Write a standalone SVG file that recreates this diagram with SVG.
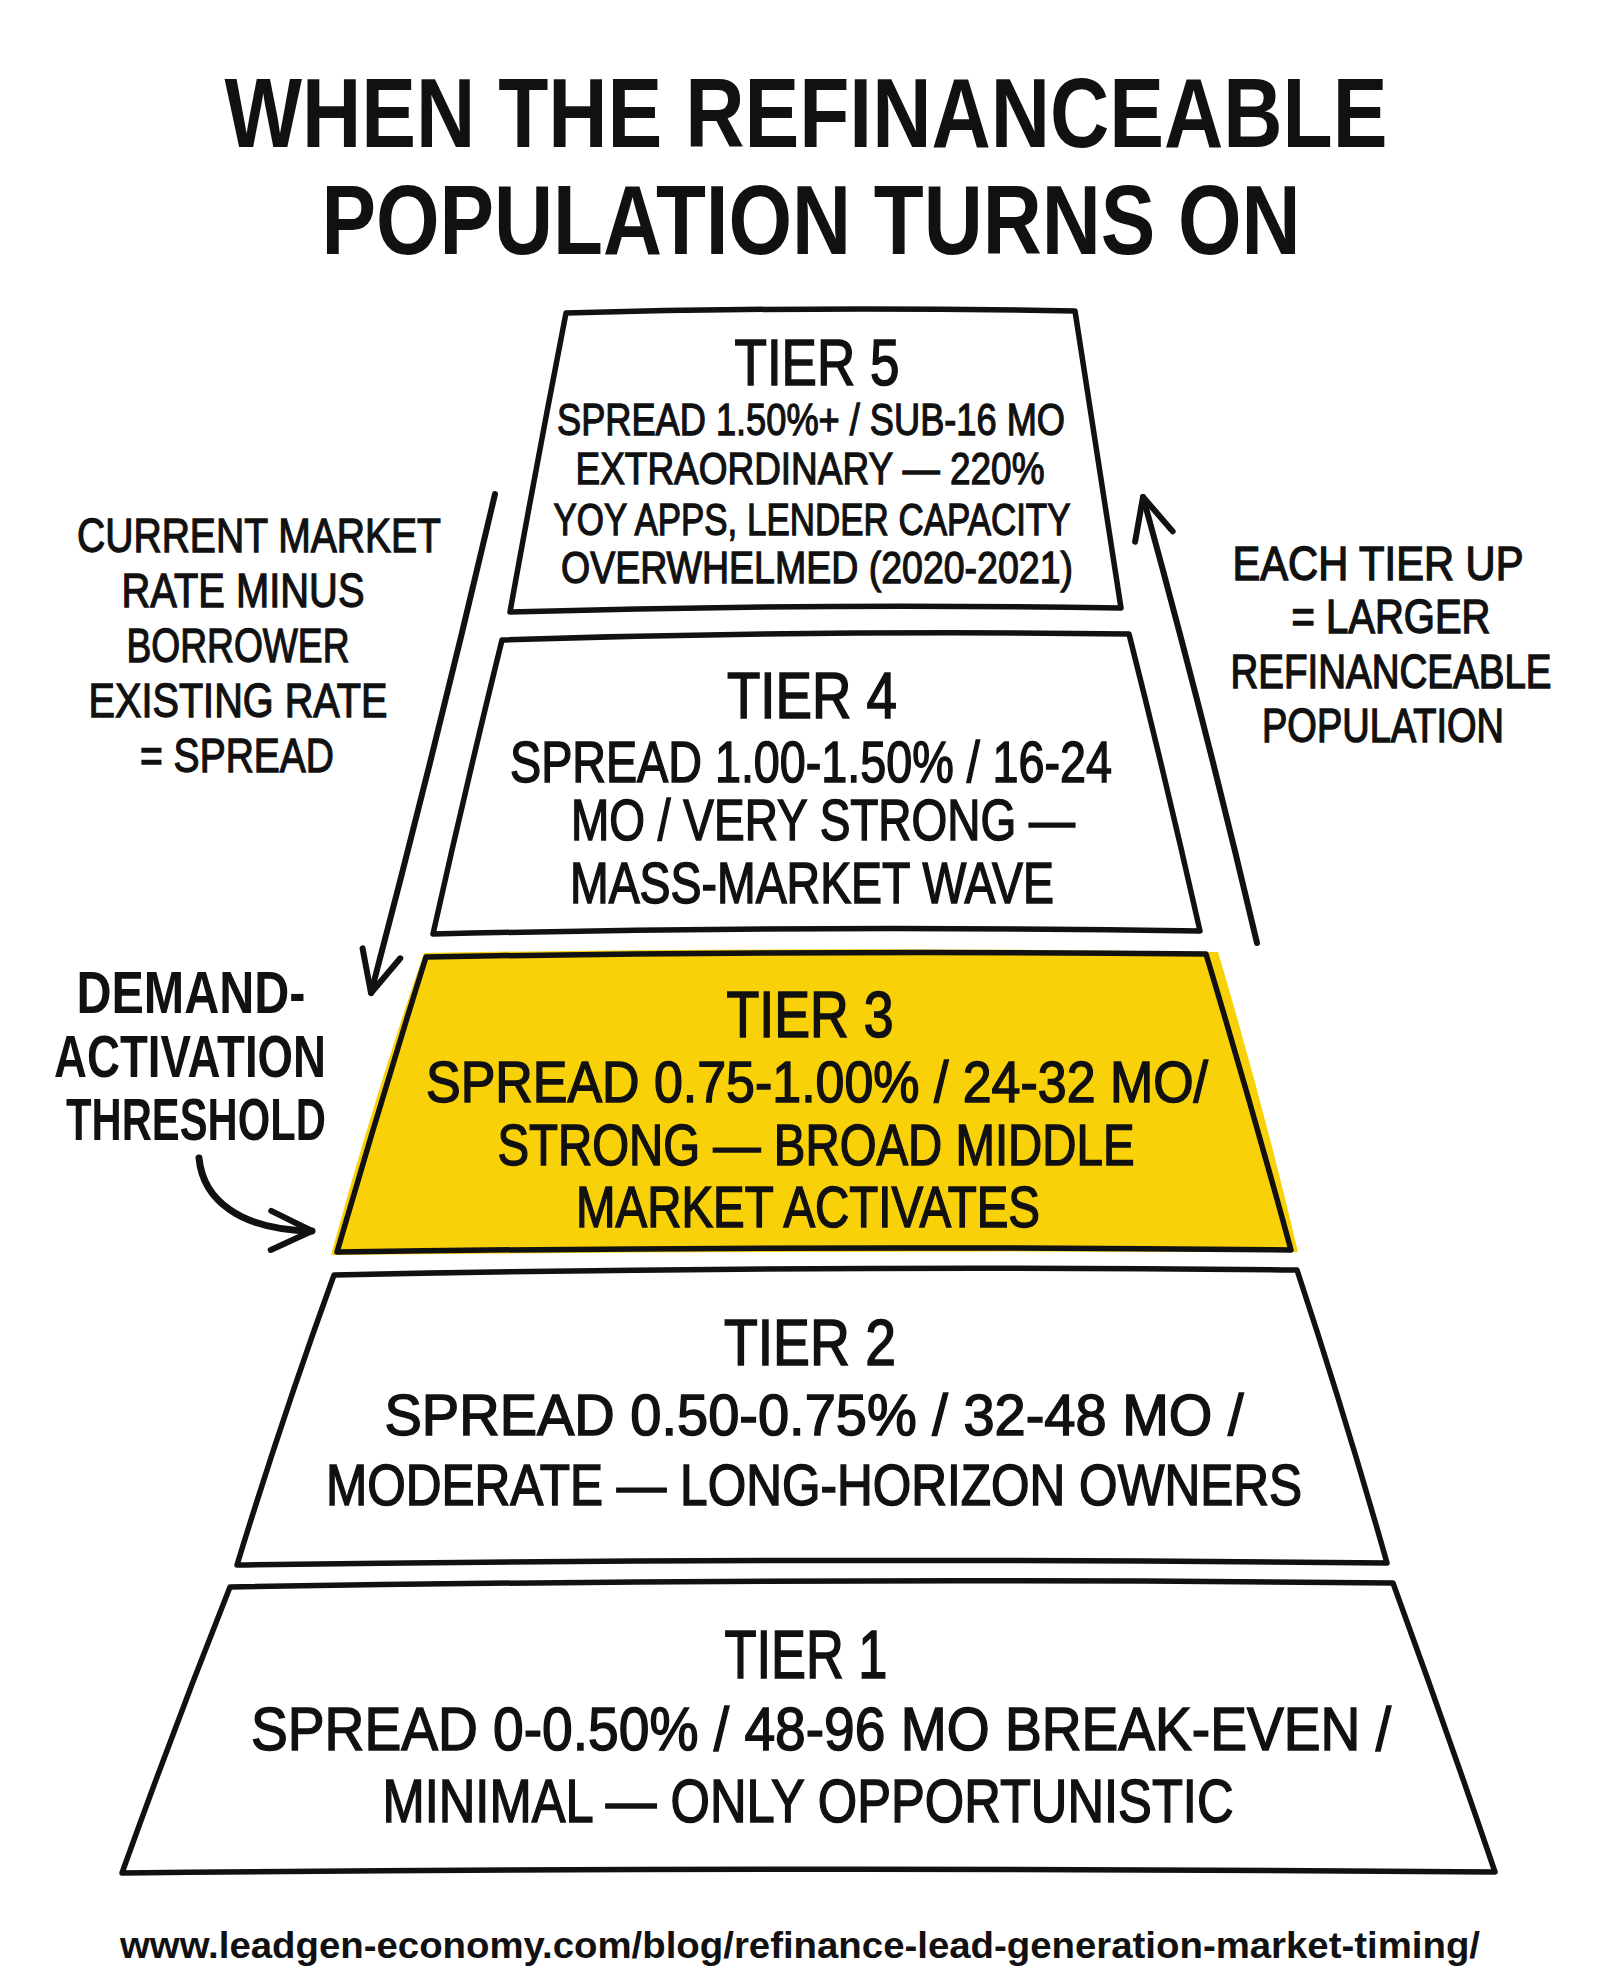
<svg xmlns="http://www.w3.org/2000/svg" width="1600" height="1986" viewBox="0 0 1600 1986">
  <style>
    .bg { fill: #ffffff; }
    .tier { fill: #ffffff; stroke: #111111; stroke-width: 5.5; stroke-linejoin: round; stroke-linecap: round; }
    .tier.hot { fill: none; }
    .hotfill { fill: #F9D109; }
    text { font-family: "Liberation Sans", Arial, Helvetica, sans-serif; fill: #111111; text-anchor: middle; }
    .title { font-size: 80px; font-weight: bold; }
    .tt { font-size: 64px; stroke: #111111; stroke-width: 1.6; }
    .b5 { font-size: 45px; stroke: #111111; stroke-width: 1.3; }
    .b { font-size: 57px; stroke: #111111; stroke-width: 1.5; }
    .note { font-size: 49px; stroke: #111111; stroke-width: 1.3; }
    .note2 { font-size: 40px; stroke: #111111; stroke-width: 1.2; }
    .strong { font-size: 60px; font-weight: bold; }
    .url { font-size: 37px; font-weight: bold; }
    .conn { fill: none; stroke: #111111; stroke-width: 6; stroke-linecap: round; stroke-linejoin: round; }
  </style>
  <defs>
    <marker id="chev" viewBox="0 0 52 52" refX="47" refY="26" markerWidth="52" markerHeight="52" markerUnits="userSpaceOnUse" orient="auto" overflow="visible">
      <path d="M6,6.5 L47,26 L6,45.5" fill="none" stroke="#111111" stroke-width="6" stroke-linecap="round" stroke-linejoin="round"/>
    </marker>
  </defs>

  <rect class="bg" x="0" y="0" width="1600" height="1986"/>

  <g id="title">
    <text class="title" transform="translate(806,147) scale(1,1.225)" x="0" y="0" textLength="1163" lengthAdjust="spacingAndGlyphs">WHEN THE REFINANCEABLE</text>
    <text class="title" transform="translate(811,254) scale(1,1.225)" x="0" y="0" textLength="979" lengthAdjust="spacingAndGlyphs">POPULATION TURNS ON</text>
  </g>

  <g id="tier5">
    <path class="tier" d="M566,313 Q820,306 1075,311 Q1098,460 1121,608 Q815,603 510,612 Q537,462 566,313 Z"/>
    <text class="tt" x="817" y="385" textLength="165" lengthAdjust="spacingAndGlyphs">TIER 5</text>
    <text class="b5" x="811" y="435" textLength="508" lengthAdjust="spacingAndGlyphs">SPREAD 1.50%+ / SUB-16 MO</text>
    <text class="b5" x="810" y="484" textLength="469" lengthAdjust="spacingAndGlyphs">EXTRAORDINARY — 220%</text>
    <text class="b5" x="812" y="535" textLength="517" lengthAdjust="spacingAndGlyphs">YOY APPS, LENDER CAPACITY</text>
    <text class="b5" x="817" y="583" textLength="512" lengthAdjust="spacingAndGlyphs">OVERWHELMED (2020-2021)</text>
  </g>

  <g id="tier4">
    <path class="tier" d="M502,640 Q815,630 1129,634 Q1166,780 1200,931 Q816,925 433,934 Q466,786 502,640 Z"/>
    <text class="tt" x="812" y="718" textLength="170" lengthAdjust="spacingAndGlyphs">TIER 4</text>
    <text class="b" x="811" y="782" textLength="602" lengthAdjust="spacingAndGlyphs">SPREAD 1.00-1.50% / 16-24</text>
    <text class="b" x="823" y="840" textLength="504" lengthAdjust="spacingAndGlyphs">MO / VERY STRONG —</text>
    <text class="b" x="812" y="903" textLength="484" lengthAdjust="spacingAndGlyphs">MASS-MARKET WAVE</text>
  </g>

  <g id="tier3">
    <path class="hotfill" d="M424,953 Q816,946 1218,952 Q1262,1100 1298,1252 Q814,1250 331,1255 Q372,1104 424,953 Z"/>
    <path class="tier hot" d="M426,957 Q816,950 1206,954 Q1250,1100 1291,1250 Q814,1245 337,1252 Q380,1104 426,957 Z"/>
    <text class="tt" x="810" y="1037" textLength="167" lengthAdjust="spacingAndGlyphs">TIER 3</text>
    <text class="b" x="817" y="1102" textLength="782" lengthAdjust="spacingAndGlyphs">SPREAD 0.75-1.00% / 24-32 MO/</text>
    <text class="b" x="816" y="1165" textLength="637" lengthAdjust="spacingAndGlyphs">STRONG — BROAD MIDDLE</text>
    <text class="b" x="808" y="1227" textLength="464" lengthAdjust="spacingAndGlyphs">MARKET ACTIVATES</text>
  </g>

  <g id="tier2">
    <path class="tier" d="M334,1275 Q815,1265 1297,1270 Q1345,1415 1387,1563 Q812,1557 237,1565 Q282,1418 334,1275 Z"/>
    <text class="tt" x="810" y="1365" textLength="172" lengthAdjust="spacingAndGlyphs">TIER 2</text>
    <text class="b" x="814" y="1435" textLength="859" lengthAdjust="spacingAndGlyphs">SPREAD 0.50-0.75% / 32-48 MO /</text>
    <text class="b" x="814" y="1505" textLength="976" lengthAdjust="spacingAndGlyphs">MODERATE — LONG-HORIZON OWNERS</text>
  </g>

  <g id="tier1">
    <path class="tier" d="M230,1587 Q812,1577 1393,1583 Q1446,1728 1495,1872 Q808,1866 122,1873 Q174,1728 230,1587 Z"/>
    <text class="tt" x="806" y="1678" textLength="163" lengthAdjust="spacingAndGlyphs" style="font-size:68px">TIER 1</text>
    <text class="b" x="821" y="1750" textLength="1140" lengthAdjust="spacingAndGlyphs" style="font-size:61px">SPREAD 0-0.50% / 48-96 MO BREAK-EVEN /</text>
    <text class="b" x="808" y="1822" textLength="851" lengthAdjust="spacingAndGlyphs" style="font-size:62px">MINIMAL — ONLY OPPORTUNISTIC</text>
  </g>

  <g id="note-spread">
    <text class="note" x="259" y="552" textLength="364" lengthAdjust="spacingAndGlyphs">CURRENT MARKET</text>
    <text class="note" x="243" y="607" textLength="243" lengthAdjust="spacingAndGlyphs">RATE MINUS</text>
    <text class="note" x="238" y="662" textLength="223" lengthAdjust="spacingAndGlyphs">BORROWER</text>
    <text class="note" x="238" y="717" textLength="299" lengthAdjust="spacingAndGlyphs">EXISTING RATE</text>
    <text class="note" x="237" y="772" textLength="194" lengthAdjust="spacingAndGlyphs">= SPREAD</text>
  </g>

  <g id="note-larger">
    <text class="note2" transform="translate(1378,580) scale(1,1.225)" x="0" y="0" textLength="291" lengthAdjust="spacingAndGlyphs">EACH TIER UP</text>
    <text class="note2" transform="translate(1391,633) scale(1,1.225)" x="0" y="0" textLength="199" lengthAdjust="spacingAndGlyphs">= LARGER</text>
    <text class="note2" transform="translate(1391,688) scale(1,1.225)" x="0" y="0" textLength="321" lengthAdjust="spacingAndGlyphs">REFINANCEABLE</text>
    <text class="note2" transform="translate(1383,742) scale(1,1.225)" x="0" y="0" textLength="242" lengthAdjust="spacingAndGlyphs">POPULATION</text>
  </g>

  <g id="note-threshold">
    <text class="strong" x="191" y="1013" textLength="229" lengthAdjust="spacingAndGlyphs">DEMAND-</text>
    <text class="strong" x="190" y="1077" textLength="272" lengthAdjust="spacingAndGlyphs">ACTIVATION</text>
    <text class="strong" x="196" y="1140" textLength="260" lengthAdjust="spacingAndGlyphs">THRESHOLD</text>
  </g>

  <g id="connectors">
    <path class="conn" d="M495,494 Q437,742 371,993" marker-end="url(#chev)"/>
    <path class="conn" d="M1257,943 Q1205,722 1143,497" marker-end="url(#chev)"/>
    <path class="conn" style="stroke-width:7" d="M199,1158 C203,1200 240,1230 312,1231" marker-end="url(#chev)"/>
  </g>

  <g id="footer">
    <text class="url" x="800" y="1958" textLength="1360" lengthAdjust="spacingAndGlyphs">www.leadgen-economy.com/blog/refinance-lead-generation-market-timing/</text>
  </g>
</svg>
